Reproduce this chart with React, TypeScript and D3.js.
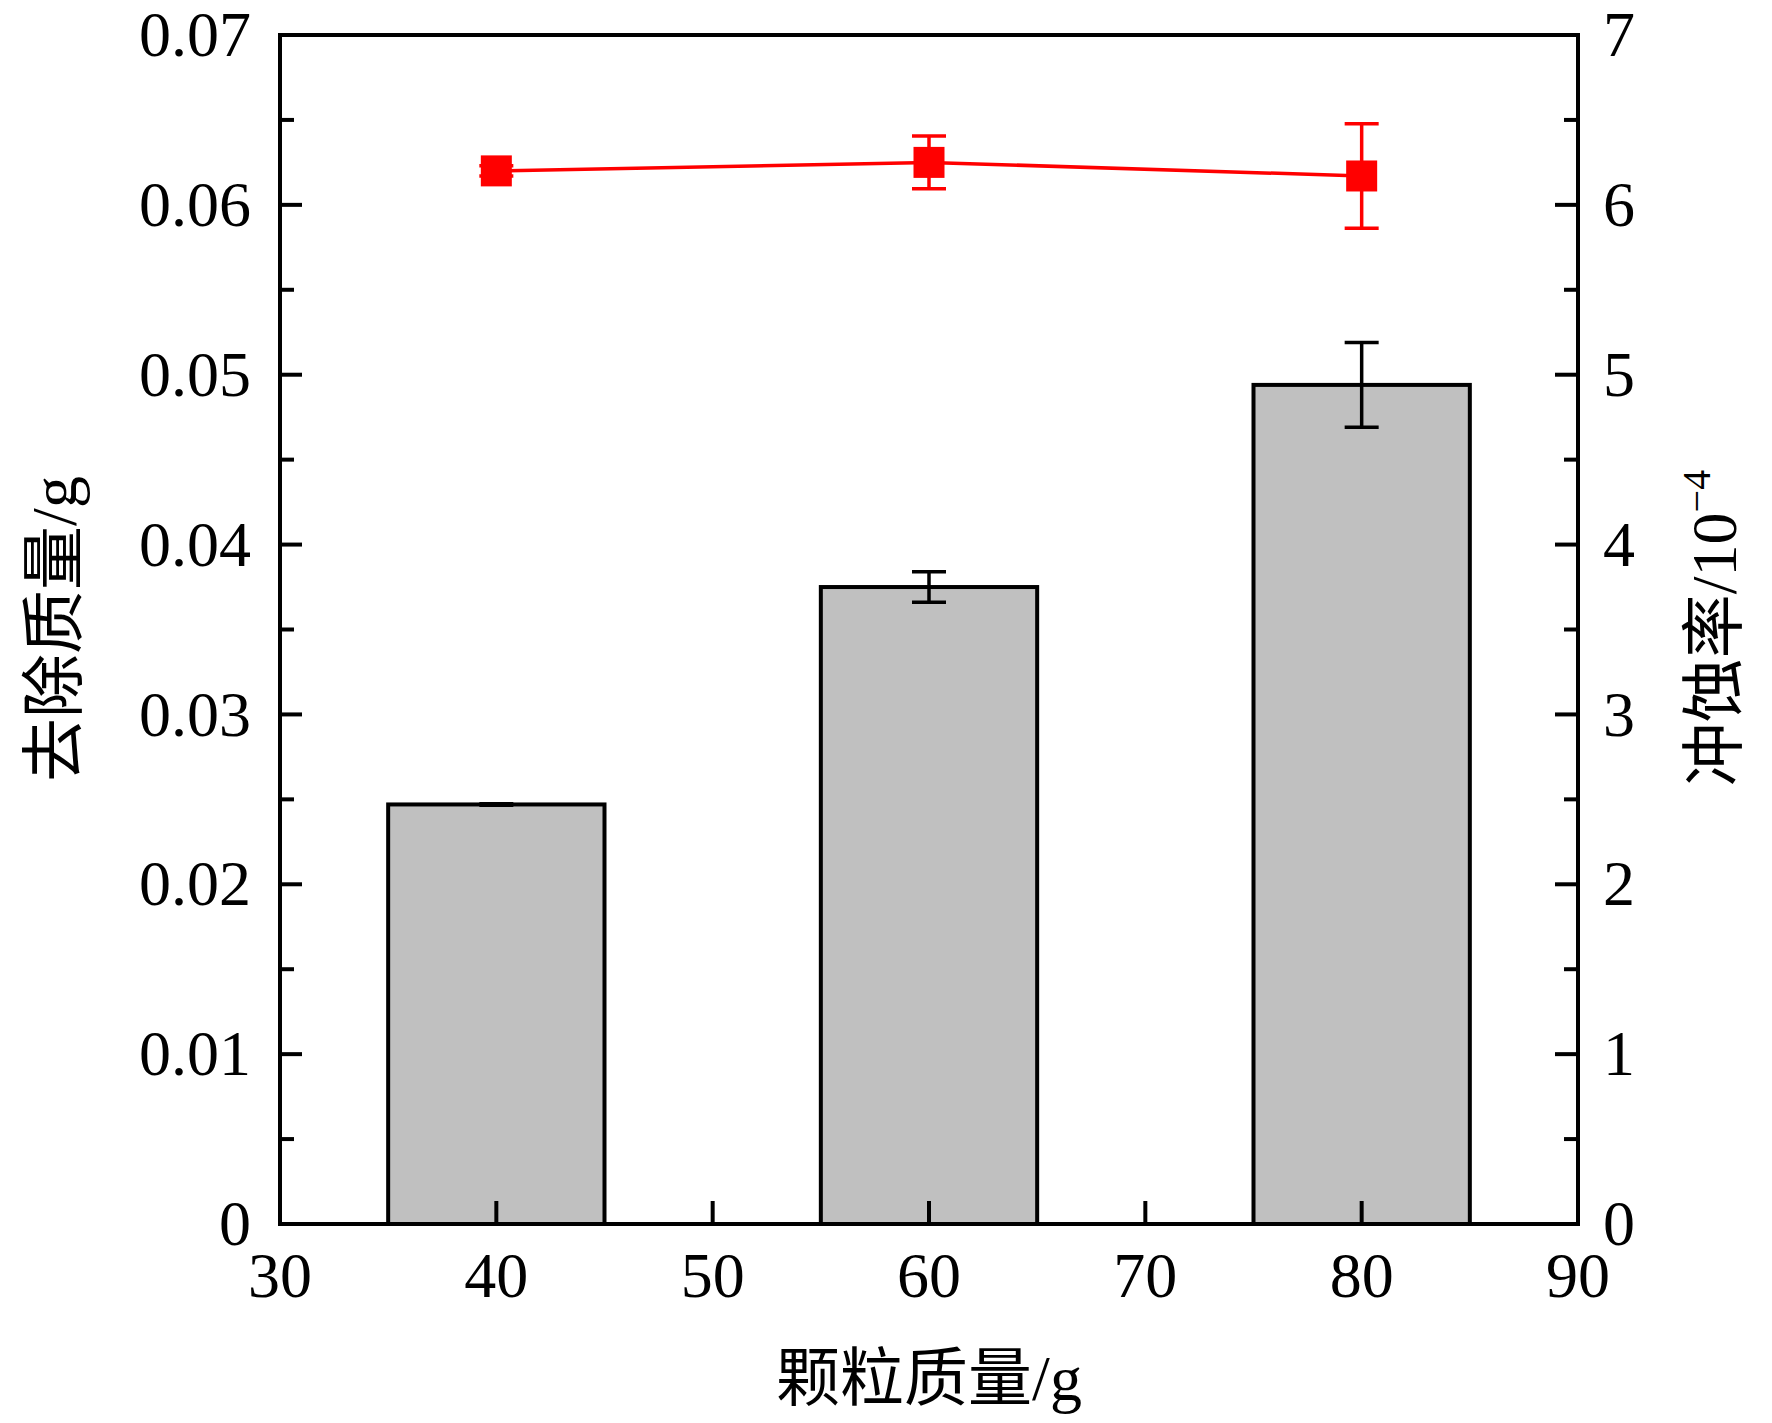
import * as d3 from "d3";
import { useEffect, useRef } from "react";

const particleMass = [40, 60, 80];
const removedMass = [0.0247, 0.0375, 0.0494];
const removedErr = [0.00004, 0.0009, 0.0025];
const erosionRate = [6.2, 6.25, 6.17];
const erosionErr = [0.03, 0.155, 0.307];

const xTicks = [30, 40, 50, 60, 70, 80, 90];
const leftTicks = [0, 0.01, 0.02, 0.03, 0.04, 0.05, 0.06, 0.07];
const leftLabels = ["0", "0.01", "0.02", "0.03", "0.04", "0.05", "0.06", "0.07"];
const rightTicks = [0, 1, 2, 3, 4, 5, 6, 7];

const FONT = "'Liberation Serif', 'Times New Roman', 'Noto Sans CJK SC', serif";

export default function App() {
  const ref = useRef<SVGSVGElement | null>(null);

  useEffect(() => {
    document.body.style.margin = "0";
    const svg = d3.select(ref.current);
    svg.selectAll("*").remove();

    const width = 1772;
    const height = 1423;
    const left = 280;
    const right = 1578;
    const top = 35;
    const bottom = 1224;

    svg.attr("width", width).attr("height", height).attr("viewBox", `0 0 ${width} ${height}`);
    svg.append("rect").attr("width", width).attr("height", height).attr("fill", "#fff");

    const x = d3.scaleLinear().domain([30, 90]).range([left, right]);
    const yL = d3.scaleLinear().domain([0, 0.07]).range([bottom, top]);
    const yR = d3.scaleLinear().domain([0, 7]).range([bottom, top]);

    // bars
    svg
      .selectAll("rect.bar")
      .data(particleMass)
      .enter()
      .append("rect")
      .attr("class", "bar")
      .attr("x", (d) => x(d - 5))
      .attr("width", (d) => x(d + 5) - x(d - 5))
      .attr("y", (_, i) => yL(removedMass[i]))
      .attr("height", (_, i) => bottom - yL(removedMass[i]))
      .attr("fill", "#c0c0c0")
      .attr("stroke", "#000")
      .attr("stroke-width", 4);

    const cap = 17;
    const errBars = (
      vals: number[],
      errs: number[],
      y: d3.ScaleLinear<number, number>,
      color: string
    ) => {
      particleMass.forEach((m, i) => {
        const cx = x(m);
        const y1 = y(vals[i] + errs[i]);
        const y2 = y(vals[i] - errs[i]);
        const g = svg.append("g").attr("stroke", color).attr("stroke-width", 3.5);
        g.append("line").attr("x1", cx).attr("x2", cx).attr("y1", y1).attr("y2", y2);
        g.append("line").attr("x1", cx - cap).attr("x2", cx + cap).attr("y1", y1).attr("y2", y1);
        g.append("line").attr("x1", cx - cap).attr("x2", cx + cap).attr("y1", y2).attr("y2", y2);
      });
    };

    errBars(removedMass, removedErr, yL, "#000");

    // erosion rate line
    const pts = particleMass.map((m, i) => [x(m), yR(erosionRate[i])] as [number, number]);
    svg
      .append("path")
      .attr("d", d3.line()(pts) ?? "")
      .attr("fill", "none")
      .attr("stroke", "#ff0000")
      .attr("stroke-width", 3.5);

    errBars(erosionRate, erosionErr, yR, "#ff0000");

    const ms = 31;
    svg
      .selectAll("rect.marker")
      .data(pts)
      .enter()
      .append("rect")
      .attr("class", "marker")
      .attr("x", (d) => d[0] - ms / 2)
      .attr("y", (d) => d[1] - ms / 2)
      .attr("width", ms)
      .attr("height", ms)
      .attr("fill", "#ff0000");

    // frame
    svg
      .append("rect")
      .attr("x", left)
      .attr("y", top)
      .attr("width", right - left)
      .attr("height", bottom - top)
      .attr("fill", "none")
      .attr("stroke", "#000")
      .attr("stroke-width", 4);

    const ticks = svg.append("g").attr("stroke", "#000").attr("stroke-width", 4);

    // bottom ticks
    xTicks.slice(1, -1).forEach((t) => {
      ticks.append("line").attr("x1", x(t)).attr("x2", x(t)).attr("y1", bottom).attr("y2", bottom - 23);
    });

    // left and right ticks, major and minor
    d3.range(0, 7.01, 0.5).forEach((v) => {
      const major = Math.abs(v - Math.round(v)) < 1e-6;
      if (v === 0 || v > 6.99) return;
      const yy = yR(v);
      ticks
        .append("line")
        .attr("x1", left)
        .attr("x2", left + (major ? 22 : 14))
        .attr("y1", yy)
        .attr("y2", yy);
      ticks
        .append("line")
        .attr("x1", right)
        .attr("x2", right - (major ? 23 : 14))
        .attr("y1", yy)
        .attr("y2", yy);
    });

    const labels = svg.append("g").attr("font-family", FONT).attr("font-size", 64).attr("fill", "#000");

    xTicks.forEach((t) => {
      labels.append("text").attr("x", x(t)).attr("y", 1297).attr("text-anchor", "middle").text(String(t));
    });

    leftTicks.forEach((t, i) => {
      labels
        .append("text")
        .attr("x", left - 29)
        .attr("y", yL(t))
        .attr("dy", "0.33em")
        .attr("text-anchor", "end")
        .text(leftLabels[i]);
    });

    rightTicks.forEach((t) => {
      labels
        .append("text")
        .attr("x", right + 25)
        .attr("y", yR(t))
        .attr("dy", "0.33em")
        .attr("text-anchor", "start")
        .text(String(t));
    });

    // axis titles
    labels
      .append("text")
      .attr("x", 929)
      .attr("y", 1400)
      .attr("text-anchor", "middle")
      .text("颗粒质量/g");

    labels
      .append("text")
      .attr("transform", "translate(76,629) rotate(-90)")
      .attr("text-anchor", "middle")
      .text("去除质量/g");

    const rt = labels
      .append("text")
      .attr("transform", "translate(1736,628) rotate(-90)")
      .attr("text-anchor", "middle");
    rt.append("tspan").text("冲蚀率/10");
    rt.append("tspan").attr("font-size", 40).attr("dy", -26).text("−4");
  }, []);

  return <svg ref={ref} style={{ display: "block" }} />;
}
